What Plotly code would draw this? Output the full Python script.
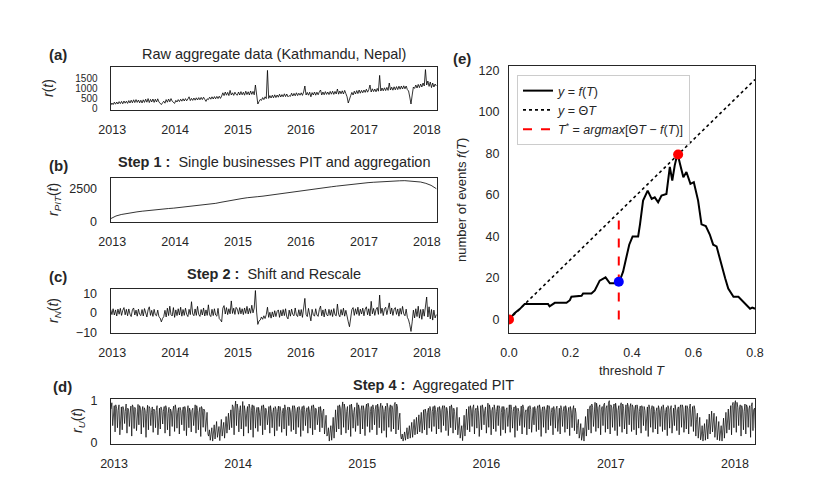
import plotly.graph_objects as go
import pandas as pd

# ---- data ----
start_week = "2012-12-23"          # first weekly sample
year_ticks = ["2013-01-01", "2014-01-01", "2015-01-01", "2016-01-01", "2017-01-01", "2018-01-01"]
year_labels = ["2013", "2014", "2015", "2016", "2017", "2018"]

# (a) raw aggregate r(t), weekly
r_raw = [
    130, 250, 170, 290, 190, 300, 200, 320, 220, 330, 210, 350, 240,
    340, 230, 370, 250, 390, 260, 410, 270, 420, 280, 400, 260, 390,
    250, 410, 280, 440, 290, 470, 270, 430, 300, 450, 280, 440, 300,
    460, 300, 250, 170, 260, 340, 240, 420, 290, 450, 310, 470, 340, 280,
    # 2014
    230, 380, 300, 420, 320, 440, 340, 460, 350, 470, 360, 450, 560,
    370, 480, 380, 500, 390, 510, 400, 520, 410, 530, 420, 540, 430,
    330, 460, 420, 540, 440, 560, 450, 570, 460, 580, 470, 590, 480,
    600, 760, 620, 800, 640, 780, 620, 880, 650, 760, 630, 790, 680,
    # 2015
    640, 800, 650, 820, 660, 790, 640, 840, 670, 810, 650, 850, 680, 830, 660,
    1150, 720,
    200, 320, 430, 380, 520, 420, 560, 470, 1880,
    480, 620, 500, 640, 510, 660, 520, 650, 540, 690, 550, 670, 560,
    710, 570, 700, 560, 620, 580, 740, 600, 730, 610, 760, 620, 740,
    # 2016
    640, 760, 630, 800, 1100, 650, 780, 640, 790, 560, 770, 650, 800,
    640, 790, 660, 810, 900, 650, 800, 660, 820, 680, 800, 670, 830,
    690, 840, 680, 830, 700, 950, 690, 850, 710, 860, 700, 880, 720,
    560, 250, 480, 620, 780, 650, 840, 700, 870, 720, 900, 740, 880,
    # 2017
    760, 900, 780, 940, 790, 920, 1150, 800, 960, 820, 950, 810, 980, 840,
    1630,
    850, 1000, 860, 1010, 870, 1030, 880, 1250, 900, 1040, 890, 1060, 910,
    1070, 920, 1090, 940, 1100, 950, 1110, 960, 1100, 920, 850, 550,
    200,
    650, 1050, 980, 1150, 1000, 1180, 1020, 1200, 1050, 1250, 1100, 1920,
    # 2018
    1150, 1350, 1080, 1300, 1020, 1250, 1050, 1200, 1100,
]

# (b) r_PIT(t), roughly monthly
r_pit = [
    250, 450, 560, 640, 700, 760, 810, 860, 900, 940, 980, 1010,
    1040, 1080, 1120, 1160, 1200, 1250, 1300, 1350, 1400, 1480, 1560, 1630,
    1700, 1760, 1820, 1880, 1900, 1940, 1990, 2040, 2090, 2140, 2200, 2260,
    2320, 2380, 2440, 2490, 2540, 2590, 2640, 2690, 2740, 2790, 2830, 2870,
    2910, 2950, 2980, 3010, 3040, 3060, 3080, 3090, 3100, 3080, 3050, 3000,
    2900, 2750, 2500,
]

# (c) r_N(t), weekly
r_n = [
    1.8, -0.8, 2.2, -1.0, 1.6, -1.5, 2.0, -0.6, 2.4, -1.2, 1.4, 2.8, -0.9,
    1.9, -1.4, 2.1, -0.6, -1.8, 1.7, 2.6, -1.0, 1.5, -1.6, 2.0, -0.7, -1.3,
    1.8, -1.5, 2.3, -0.8, -2.0, 1.6, 3.2, -1.2, 1.4, -1.7, 1.9, -0.9, -1.4,
    1.5, -1.9, -2.5, -4.5, -2.8, -1.8, 1.4, -2.0, 2.5, -1.3, 3.5, -0.8, -1.5, 2.8,
    # 2014
    -2.2, 1.6, -1.3, 2.2, -1.0, 3.0, -1.6, 1.8, -1.2, 2.5, -0.7, -1.8, 1.9,
    -0.8, 5.8, -0.5, -1.4, 2.1, -1.2, 3.4, -0.7, -1.7, 1.8, -1.0, 2.6, -1.5,
    1.6, -1.2, 4.2, -0.9, -1.8, 1.9, -1.3, 2.2, -1.0, -1.6, 2.4, -2.8, -3.5,
    -4.5, 2.5, 3.8, -0.5, 2.8, -0.8, 2.2, -0.4, 6.2, -0.2, 2.5, -0.7, 2.9,
    # 2015
    2.0, -0.6, 2.8, -0.4, 2.2, -0.8, 2.6, -0.2, 3.4, -0.5, 2.4, -0.1, 4.0, 0.1, 2.6,
    11.5, 0.5,
    -5.8, -4.0, -3.6, -2.0, -3.2, -1.4, -2.8, -0.8, 3.0,
    -2.2, 0.4, -2.6, 0.6, -2.0, 1.2, -1.8, 0.8, 1.6, -2.2, 1.4, -1.5, 1.8,
    -1.3, 2.2, -1.9, -3.0, 1.5, -1.6, 2.0, -0.8, -1.4, 2.6, -1.0, -1.8, 1.7,
    # 2016
    -1.5, 1.8, -2.2, 2.0, 7.5, -0.7, -1.8, 2.4, -1.2, -4.0, 1.9, -0.9, -1.6,
    2.2, -1.0, -1.7, 1.8, 3.6, -1.4, 1.6, -2.0, 2.1, -0.8, -1.5, 1.9, -1.2,
    1.7, -1.8, 2.3, -0.9, -1.4, 4.6, -0.7, -1.9, 1.8, -1.1, 2.5, -1.6, 1.4,
    -2.5, -4.5, -7.0, -3.5, 1.8, 2.8, -1.2, 2.2, -0.6, 3.0, -1.3, 2.0, -0.5,
    # 2017
    2.5, -1.4, 1.9, 3.2, -0.9, 2.2, -1.5, 6.0, -0.4, 2.4, -1.2, 1.8, 2.9, -0.7,
    9.2,
    -0.2, 2.5, -1.3, 2.0, 3.0, -0.8, 2.2, 5.2, -0.5, 2.6, -1.2, 1.9, 2.8,
    -0.7, 2.1, -1.6, 2.4, -0.6, 3.4, -0.4, -1.4, 2.0, -2.2, -3.5, -6.0,
    -9.4,
    -4.5, 1.5, -2.5, 2.2, -1.8, 3.5, -2.6, 1.8, -3.2, 2.0, -1.6, 3.0,
    # 2018
    8.2, -2.0, 3.2, -3.0, 1.8, -3.6, 1.5, -2.5, -0.8,
]

# (d) r_U(t): three samples per week (mid, high, dip), in hundredths
ru_mid = [
    80, 72, 90, 76, 70, 86, 74, 82, 68, 90,
    84, 70, 88, 75, 83, 69, 86, 72, 80, 77,
    70, 85, 74, 88, 69, 80, 76, 90, 72, 84,
    73, 86, 70, 82, 76, 68, 88, 72, 86, 80,
    55, 15, 18, 25, 30, 22, 40, 35, 50, 58,
    66, 90, 80, 92, 72, 84, 88, 70, 92, 76,
    88, 70, 84, 74, 90, 82, 70, 88, 72, 86,
    74, 86, 70, 90, 76, 84, 72, 88, 70, 86,
    76, 88, 72, 86, 74, 90, 82, 72, 86, 74,
    50, 18, 22, 45, 68, 76, 90, 80, 92, 74,
    82, 92, 72, 86, 90, 76, 88, 80, 94, 74,
    90, 78, 92, 82, 88, 74, 94, 80, 88, 90,
    92, 55, 8, 12, 20, 28, 35, 42, 50, 55,
    62, 70, 80, 72, 86, 74, 88, 72, 86, 78,
    88, 84, 74, 90, 82, 72, 48, 20, 45, 70,
    74, 88, 82, 76, 88, 72, 90, 76, 84, 90,
    76, 90, 74, 88, 72, 86, 78, 82, 90, 74,
    88, 82, 76, 90, 72, 80, 88, 74, 86, 80,
    90, 74, 86, 78, 88, 72, 86, 80, 74, 88,
    74, 88, 72, 86, 78, 82, 40, 20, 15, 45,
    70, 82, 92, 80, 94, 84, 78, 90, 82, 94,
    90, 80, 94, 76, 88, 92, 78, 94, 84, 90,
    78, 90, 74, 88, 86, 72, 90, 78, 86, 74,
    88, 76, 90, 72, 88, 80, 74, 90, 78, 82,
    90, 76, 88, 82, 74, 88, 55, 30, 15, 22,
    35, 50, 62, 45, 30, 20, 15, 35, 55, 70,
    76, 88, 92, 96, 80, 88, 74, 90, 80, 86,
    78,
]
ru_peak = [
    95, 88, 82, 90, 85, 78, 92, 80, 87, 84,
    79, 91, 83, 86, 76, 89, 81, 85, 74, 88,
    82, 77, 86, 80, 84, 73, 87, 79, 83, 76,
    85, 78, 88, 74, 82, 90, 77, 84, 80, 75,
    72, 30, 35, 42, 50, 38, 55, 48, 62, 70,
    78, 85, 99, 80, 88, 98, 75, 86, 82, 90,
    78, 84, 72, 88, 80, 76, 86, 74, 83, 79,
    87, 75, 82, 78, 85, 73, 88, 80, 84, 77,
    86, 79, 83, 75, 88, 81, 77, 85, 72, 80,
    65, 35, 40, 60, 78, 88, 82, 97, 80, 86,
    90, 78, 84, 95, 80, 88, 76, 92, 83, 86,
    79, 89, 82, 94, 78, 87, 83, 90, 80, 96,
    85, 70, 20, 25, 35, 40, 48, 55, 60, 66,
    72, 78, 70, 82, 75, 86, 79, 84, 77, 88,
    81, 76, 87, 80, 74, 84, 60, 40, 65, 80,
    86, 78, 90, 82, 76, 88, 80, 85, 94, 79,
    84, 77, 88, 81, 86, 75, 83, 90, 78, 85,
    80, 74, 87, 82, 78, 86, 79, 84, 76, 88,
    81, 85, 77, 89, 80, 83, 75, 87, 82, 78,
    86, 80, 84, 76, 88, 70, 55, 45, 35, 62,
    80, 88, 84, 96, 82, 90, 86, 94, 88, 100,
    85, 92, 80, 88, 95, 82, 90, 86, 93, 84,
    89, 78, 87, 82, 76, 85, 80, 88, 74, 83,
    79, 86, 77, 84, 80, 88, 82, 76, 85, 90,
    83, 88, 80, 92, 86, 78, 70, 60, 40, 45,
    55, 68, 75, 70, 62, 50, 40, 58, 72, 80,
    88, 96, 100, 84, 90, 78, 92, 85, 88, 95,
    82,
]
ru_dip = [
    40, 25, 35, 18, 30, 45, 22, 38, 15, 33,
    28, 42, 20, 36, 12, 30, 40, 24, 35, 18,
    32, 44, 22, 30, 15, 38, 26, 34, 20, 42,
    28, 16, 35, 25, 40, 22, 30, 14, 36, 26,
    20, 5, 3, 8, 12, 4, 15, 10, 22, 30,
    35, 18, 40, 25, 32, 15, 38, 22, 30, 12,
    34, 26, 40, 18, 30, 42, 22, 35, 15, 28,
    38, 24, 32, 16, 40, 26, 30, 20, 36, 14,
    28, 40, 22, 34, 18, 30, 42, 25, 35, 20,
    15, 3, 5, 10, 25, 32, 18, 36, 22, 30,
    14, 34, 26, 40, 20, 32, 16, 38, 24, 30,
    42, 18, 35, 22, 28, 12, 36, 26, 32, 20,
    30, 15, 3, 5, 8, 10, 12, 18, 20, 25,
    22, 30, 18, 34, 26, 38, 20, 32, 24, 40,
    28, 16, 35, 22, 30, 18, 10, 4, 15, 30,
    25, 38, 20, 34, 14, 30, 42, 22, 36, 18,
    32, 26, 40, 16, 30, 22, 38, 24, 34, 12,
    28, 40, 20, 36, 18, 32, 24, 42, 26, 30,
    14, 36, 22, 30, 40, 18, 34, 26, 20, 38,
    24, 32, 16, 35, 28, 20, 10, 5, 3, 15,
    30, 22, 38, 26, 34, 18, 40, 24, 32, 20,
    36, 28, 16, 38, 24, 32, 20, 42, 26, 30,
    18, 34, 22, 40, 28, 14, 36, 24, 32, 20,
    38, 26, 30, 16, 34, 22, 40, 28, 18, 36,
    24, 32, 20, 38, 26, 15, 10, 6, 3, 5,
    8, 20, 25, 12, 6, 4, 3, 10, 22, 30,
    18, 35, 24, 40, 15, 30, 20, 36, 12, 28,
    34,
]

# (e) number of events vs threshold
thr = [0.0, 0.008, 0.018, 0.035, 0.051, 0.127, 0.132, 0.149, 0.187, 0.198, 0.203, 0.236,
       0.241, 0.268, 0.279, 0.295, 0.314, 0.328, 0.357, 0.371, 0.382, 0.391, 0.402, 0.420,
       0.426, 0.436, 0.451, 0.464, 0.474, 0.485, 0.496, 0.512, 0.523, 0.531, 0.539, 0.548,
       0.556, 0.567, 0.577, 0.590, 0.601, 0.615, 0.626, 0.640, 0.653, 0.664, 0.675, 0.689,
       0.703, 0.713, 0.730, 0.746, 0.768, 0.778, 0.784, 0.791, 0.800]
n_events = [0, 1.5, 3, 5, 7.5, 7.5, 6.3, 8, 8, 9.3, 11, 11.4,
            12.5, 12.5, 14, 18.7, 20.3, 17.4, 17.4, 23, 29.6, 36, 40, 40,
            45.8, 57.2, 62, 58, 58.8, 56.4, 59.6, 60.4, 73.4, 66.9, 74.2, 79.9,
            75, 68.5, 71, 65.3, 66.1, 57.2, 45.8, 45, 40.9, 36, 35.2, 27.1,
            19.8, 14.9, 10.9, 10.9, 7.6, 6, 5.2, 5.7, 5.2]
theta_T = [0.0, 0.8]
theta_y = [0.0, 115.5]
t_star = 0.357
t_star_top = 51.5
red_pts_T = [0.0, 0.55]
red_pts_y = [0.0, 79.4]
blue_pt = (0.357, 18.2)

# ---- build x positions ----
w0 = pd.Timestamp(start_week)
dates_w = [w0 + pd.Timedelta(days=7 * k) for k in range(len(r_raw))]
dates_b = pd.date_range(start_week, "2018-02-25", periods=len(r_pit))
du_x, du_y = [], []
for k, (m, p, d) in enumerate(zip(ru_mid, ru_peak, ru_dip)):
    for off, v in ((0, m), (2.5, p), (5, d)):
        du_x.append(w0 + pd.Timedelta(days=7 * k + off))
        du_y.append(v / 100)

INK = "#262626"
FONT = "Liberation Sans, Arial, sans-serif"
W, H = 830, 498


def dom_x(a, b):
    return [a / W, b / W]


def dom_y(top, bot):
    return [1 - bot / H, 1 - top / H]


def frame(**kw):
    d = dict(showgrid=False, zeroline=False, showline=True, mirror=True,
             linecolor=INK, linewidth=1.25, ticks="", automargin=False,
             tickfont=dict(size=12.5, color=INK, family=FONT))
    d.update(kw)
    return d


def time_axis(dom, anchor):
    return frame(type="date", domain=dom, anchor=anchor,
                 range=["2012-12-23", "2018-03-01"],
                 tickvals=year_ticks, ticktext=year_labels, ticklabelstandoff=8)


fig = go.Figure()
ts_line = dict(color="black", width=0.8)
fig.add_scatter(x=dates_w, y=r_raw, mode="lines", line=ts_line, xaxis="x", yaxis="y", showlegend=False)
fig.add_scatter(x=dates_b, y=r_pit, mode="lines", line=dict(color="black", width=0.8), xaxis="x2", yaxis="y2", showlegend=False)
fig.add_scatter(x=dates_w, y=r_n, mode="lines", line=ts_line, xaxis="x3", yaxis="y3", showlegend=False)
fig.add_scatter(x=du_x, y=du_y, mode="lines", line=dict(color="black", width=0.7), xaxis="x4", yaxis="y4", showlegend=False)

fig.add_scatter(x=thr, y=n_events, mode="lines", line=dict(color="black", width=2),
                name="<i>y</i> = <i>f</i>(<i>T</i>)", xaxis="x5", yaxis="y5")
fig.add_scatter(x=theta_T, y=theta_y, mode="lines", line=dict(color="black", width=1.6, dash="dot"),
                name="<i>y</i> = Θ<i>T</i>", xaxis="x5", yaxis="y5")
fig.add_scatter(x=[t_star, t_star], y=[0, t_star_top], mode="lines",
                line=dict(color="#ff0000", width=2, dash="dash"),
                name="<i>T</i><sup>*</sup> = <i>argmax</i>[Θ<i>T</i> − <i>f</i>(<i>T</i>)]",
                xaxis="x5", yaxis="y5")
fig.add_scatter(x=red_pts_T, y=red_pts_y, mode="markers", marker=dict(color="#ff0000", size=10),
                xaxis="x5", yaxis="y5", showlegend=False)
fig.add_scatter(x=[blue_pt[0]], y=[blue_pt[1]], mode="markers", marker=dict(color="#0000ff", size=10),
                xaxis="x5", yaxis="y5", showlegend=False)

left = dom_x(102.7, 429)
fig.update_layout(
    width=W, height=H, margin=dict(l=0, r=0, t=0, b=0, autoexpand=False),
    paper_bgcolor="white", plot_bgcolor="white",
    font=dict(family=FONT, color=INK, size=12.5),
    hovermode=False,
    xaxis=time_axis(left, "y"),
    yaxis=frame(domain=dom_y(59, 102), anchor="x", range=[-100, 2050],
                tickvals=[0, 500, 1000, 1500], tickfont=dict(size=10, color=INK, family=FONT),
                ticklabelstandoff=10),
    xaxis2=time_axis(left, "y2"),
    yaxis2=frame(domain=dom_y(170, 214), anchor="x2", range=[0, 3300],
                 tickvals=[0, 2500], ticklabelstandoff=10),
    xaxis3=time_axis(left, "y3"),
    yaxis3=frame(domain=dom_y(281, 325), anchor="x3", range=[-10.2, 12.3],
                 tickvals=[-10, 0, 10], ticktext=["−10", "0", "10"], ticklabelstandoff=10),
    xaxis4=time_axis(dom_x(103, 747), "y4"),
    yaxis4=frame(domain=dom_y(391, 436), anchor="x4", range=[-0.04, 1.04],
                 tickvals=[0, 1], ticklabelstandoff=10),
    xaxis5=frame(domain=dom_x(501, 747), anchor="y5", range=[0, 0.8],
                 tickvals=[0, 0.2, 0.4, 0.6, 0.8], tickformat=".1f", ticklabelstandoff=8),
    yaxis5=frame(domain=dom_y(58, 325), anchor="x5", range=[-6.5, 122],
                 tickvals=[0, 20, 40, 60, 80, 100, 120], ticklabelstandoff=6),
    legend=dict(x=509 / W, y=1 - 67 / H, xanchor="left", yanchor="top",
                bgcolor="white", bordercolor="#cccccc", borderwidth=1,
                font=dict(size=12.5, color=INK, family=FONT)),
)


def label(text, x, y, size=12.5, angle=0, xanchor="center"):
    fig.add_annotation(text=text, x=x / W, y=1 - y / H, xref="paper", yref="paper",
                       showarrow=False, textangle=angle, xanchor=xanchor, yanchor="middle",
                       font=dict(size=size, color=INK, family=FONT))


# panel letters
for txt, x, y in [("(a)", 39, 47), ("(b)", 39, 158), ("(c)", 39, 268), ("(d)", 43, 378), ("(e)", 443, 50)]:
    label("<b>" + txt + "</b>", x, y, size=15, xanchor="left")

# panel titles
label("Raw aggregate data (Kathmandu, Nepal)", 266, 46, size=14.5)
label("<b>Step 1 :</b>&nbsp; Single businesses PIT and aggregation", 266, 154, size=14.5)
label("<b>Step 2 :</b>&nbsp; Shift and Rescale", 266, 266, size=14.5)
label("<b>Step 4 :</b>&nbsp; Aggregated PIT", 425, 377, size=14.5)

# y-axis labels
label("<i>r</i>(<i>t</i>)", 40, 80, size=14, angle=-90)
label("<i>r<sub>PIT</sub></i>(<i>t</i>)", 46, 192, size=14, angle=-90)
label("<i>r<sub>N</sub></i>(<i>t</i>)", 46, 303, size=14, angle=-90)
label("<i>r<sub>U</sub></i>(<i>t</i>)", 70, 413, size=14, angle=-90)
label("number of events <i>f</i>(<i>T</i>)", 453, 192, size=13, angle=-90)
label("threshold <i>T</i>", 624, 362, size=13)

fig.write_html("out.html")
